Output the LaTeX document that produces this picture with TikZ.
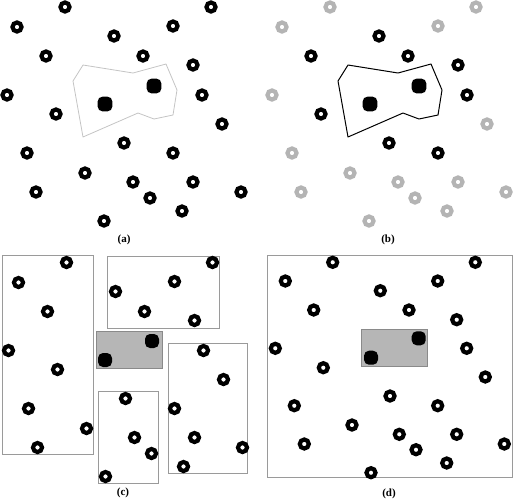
\documentclass[tikz,border=0pt]{standalone}
\usepackage{fontspec}
\setmainfont{Liberation Serif}
\definecolor{lightring}{HTML}{B4B4B4}
\definecolor{framegray}{HTML}{9A9A9A}
\definecolor{polya}{HTML}{C4C4C4}
\definecolor{shade}{HTML}{B6B6B6}
\definecolor{shadeedge}{HTML}{8A8A8A}
\begin{document}
\begin{tikzpicture}[x=1pt,y=-1pt,
  ring/.style={draw=black,line width=4.2pt},
  gring/.style={draw=lightring,line width=4.2pt},
  dot/.style={fill=black,rounded corners=5pt},
  frame/.style={draw=framegray,line width=0.9pt},
  shadebox/.style={draw=shadeedge,fill=shade,line width=0.9pt},
  lab/.style={font=\bfseries\fontsize{11}{13}\selectfont,inner sep=0pt}]
\useasboundingbox (0,0) rectangle (513,499);
% ---------- (a) ----------
\draw[polya,line width=0.8pt,line join=round]
  (83,65) -- (133,73) -- (166,64) -- (177,90) -- (173,115) -- (154,119)
  -- (138,113) -- (83,137) -- (73,81) -- cycle;
\foreach \x/\y in {65/7,211/7,17/27,173/26,114/36,46/56,143/56,193/65,7/95,202/95,
  56/114,222/124,124/143,27/153,173/153,85/173,133/182,193/182,36/192,150/198,
  241/192,182/211,104/221}
  \draw[ring] (\x,\y) circle (4.5pt);
\foreach \x/\y in {105/104,154/86}
  \fill[dot] (\x-7.4,\y-7.4) rectangle (\x+7.4,\y+7.4);
\node[lab] (la) at (124,240) {(a)};
% ---------- (b) ----------
\begin{scope}[xshift=265pt]
\draw[black,line width=1pt,line join=round]
  (83,65) -- (133,73) -- (166,64) -- (177,90) -- (173,115) -- (154,119)
  -- (138,113) -- (83,137) -- (73,81) -- cycle;
\foreach \x/\y in {65/7,211/7,17/27,173/26,7/95,222/124,27/153,85/173,133/182,
  193/182,36/192,150/198,241/192,182/211,104/221}
  \draw[gring] (\x,\y) circle (4.5pt);
\foreach \x/\y in {114/36,46/56,143/56,193/65,202/95,56/114,124/143,173/153}
  \draw[ring] (\x,\y) circle (4.5pt);
\foreach \x/\y in {105/104,154/86}
  \fill[dot] (\x-7.4,\y-7.4) rectangle (\x+7.4,\y+7.4);
\end{scope}
\node[lab] (lb) at (388,240) {(b)};
% ---------- (c) ----------
\draw[frame] (2,255) rectangle (93,454);
\draw[frame] (107,256) rectangle (219,328);
\draw[frame] (98,391) rectangle (158,483);
\draw[frame] (168,343) rectangle (247,473);
\draw[shadebox] (96,331) rectangle (162,368);
\begin{scope}[xshift=1.5pt,yshift=-255.5pt]
\foreach \x/\y in {65/7,211/7,17/27,173/26,114/36,46/56,143/56,193/65,7/95,202/95,
  56/114,222/124,124/143,27/153,173/153,85/173,133/182,193/182,36/192,150/198,
  241/192,182/211,104/221}
  \draw[ring] (\x,\y) circle (4.5pt);
\end{scope}
\foreach \x/\y in {152/341,105/360}
  \fill[dot] (\x-7,\y-7) rectangle (\x+7,\y+7);
\node[lab] (lc) at (123,493) {(c)};
% ---------- (d) ----------
\draw[frame] (267,255) rectangle (512,477);
\draw[shadebox] (361,329) rectangle (427,366);
\foreach \x/\y in {332.7/262.3,475.3/262.3,285.3/281,437.7/281,380.3/290.7,
  313.7/310,409/310,456.7/319.7,275.3/348.3,466.7/348.3,323.3/367.7,485.3/377,
  390/396,294.3/405.7,437.7/405.7,352/425,399.3/434.3,456.7/434.3,304.3/444,
  416/449.7,504.3/444,446.7/463,371/472.7}
  \draw[ring] (\x,\y) circle (4.5pt);
\foreach \x/\y in {418.7/338.3,371/357.7}
  \fill[dot] (\x-7,\y-7) rectangle (\x+7,\y+7);
\node[lab] (ld) at (389,494) {(d)};
\end{tikzpicture}
\end{document}
